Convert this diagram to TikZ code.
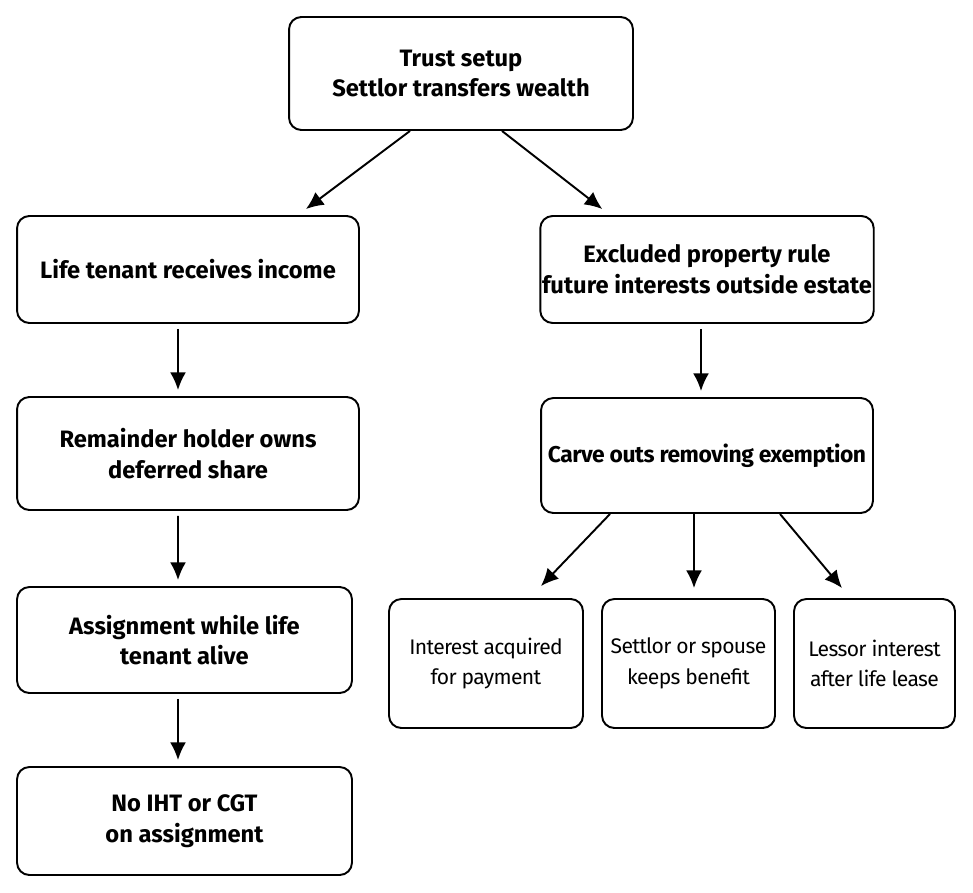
\documentclass[tikz,border=0pt]{standalone}
\usepackage{fontspec}
\setmainfont{Fira Sans}
\usetikzlibrary{arrows.meta}
\tikzset{
  box/.style={draw,line width=1.1pt,rounded corners=7pt,align=center,inner xsep=1pt,font=\fontsize{13.5}{17.5}\selectfont\bfseries},
  leaf/.style={box,font=\fontsize{12}{17.5}\selectfont\addfontfeature{LetterSpace=-3}},
  link/.style={-{Latex[length=10pt,width=9pt]},line width=1.1pt}
}
\begin{document}
\begin{tikzpicture}[x=0.02cm,y=-0.02cm]
\useasboundingbox (0,0) rectangle (973,892);
%Top
\node[box,minimum width=6.88cm,minimum height=2.26cm] (trust) at (461,73.5) {Trust setup\\Settlor transfers wealth};

%Left column
\node[box,minimum width=6.84cm,minimum height=2.14cm] (life) at (188,269.5) {Life tenant receives income};
\node[box,minimum width=6.84cm,minimum height=2.26cm] (remainder) at (188,453.5) {Remainder holder owns\\deferred share};
\node[box,minimum width=6.7cm,minimum height=2.12cm] (assign) at (184.5,640) {Assignment while life\\tenant alive};
\node[box,minimum width=6.7cm,minimum height=2.16cm] (noiht) at (184.5,821) {No IHT or CGT\\on assignment};

%Right column
\node[box,minimum width=6.64cm,minimum height=2.14cm] (excluded) at (707,269.5) {Excluded property rule\\future interests outside estate};
\node[box,minimum width=6.64cm,minimum height=2.3cm,font=\fontsize{13}{17}\selectfont\bfseries\addfontfeature{LetterSpace=-2}] (carve) at (707,455.5) {Carve outs removing exemption};
\node[leaf,minimum width=3.88cm,minimum height=2.58cm] (acquired) at (486,663.5) {Interest acquired\\for payment};
\node[leaf,minimum width=3.46cm,minimum height=2.58cm] (spouse) at (688.5,663.5) {Settlor or spouse\\keeps benefit};
\node[leaf,minimum width=3.22cm,minimum height=2.58cm] (lessor) at (874.5,663.5) {Lessor interest\\after life lease};

%Arrows
\draw[link] ([xshift=-1.02cm]trust.south) -- ([xshift=-1.08cm,yshift=0.12cm]life.north east);
\draw[link] ([xshift=0.82cm]trust.south) -- ([xshift=1.26cm,yshift=0.12cm]excluded.north west);
\draw[link] ([xshift=-0.2cm,yshift=-0.1cm]life.south) -- ([xshift=-0.2cm,yshift=0.12cm]remainder.north);
\draw[link] ([xshift=-0.2cm,yshift=-0.1cm]remainder.south) -- ([xshift=-0.13cm,yshift=0.12cm]assign.north);
\draw[link] ([xshift=-0.13cm,yshift=-0.1cm]assign.south) -- ([xshift=-0.13cm,yshift=0.12cm]noiht.north);
\draw[link] ([xshift=-0.12cm,yshift=-0.1cm]excluded.south) -- ([xshift=-0.12cm,yshift=0.12cm]carve.north);
\draw[link] ([xshift=-1.94cm]carve.south) -- ([xshift=1.1cm,yshift=0.24cm]acquired.north);
\draw[link] ([xshift=-0.26cm]carve.south) -- ([xshift=0.11cm,yshift=0.2cm]spouse.north);
\draw[link] ([xshift=1.46cm]carve.south) -- ([xshift=-0.65cm,yshift=0.2cm]lessor.north);
\end{tikzpicture}
\end{document}
